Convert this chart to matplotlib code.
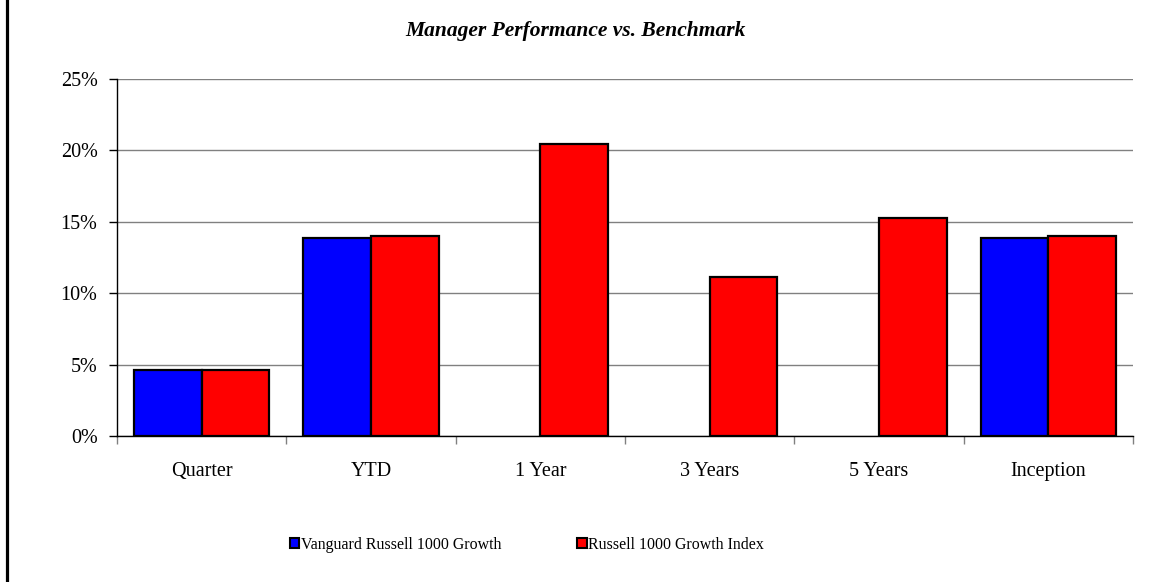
import matplotlib
matplotlib.use("Agg")
import matplotlib.pyplot as plt
from matplotlib.lines import Line2D
from matplotlib.patches import Patch
from matplotlib.ticker import FuncFormatter, FixedLocator
import numpy as np

categories = ["Quarter", "YTD", "1 Year", "3 Years", "5 Years", "Inception"]
manager = [4.6, 13.85, 0.0, 0.0, 0.0, 13.85]
benchmark = [4.65, 14.0, 20.43, 11.13, 15.3, 14.0]
series_names = ["Vanguard Russell 1000 Growth", "Russell 1000 Growth Index"]
yticks = [0, 5, 10, 15, 20, 25]

plt.rcParams['font.family'] = ['Liberation Serif', 'DejaVu Serif']

fig = plt.figure(figsize=(11.51, 5.82), dpi=100)
ax = fig.add_axes([117/1151, 1-436/582, (1133-117)/1151, (436-79)/582])

x = np.arange(len(categories))
w = 0.4
lw_m = [1.6 if v != 0 else 0 for v in manager]
lw_b = [1.6 if v != 0 else 0 for v in benchmark]
ax.bar(x - w/2, manager, w, color="#0000FF", edgecolor="black", linewidth=lw_m, zorder=3)
ax.bar(x + w/2, benchmark, w, color="#FF0000", edgecolor="black", linewidth=lw_b, zorder=3)

ax.set_xlim(-0.5, len(categories) - 0.5)
ax.set_ylim(0, 25)
ax.set_yticks(yticks)
ax.yaxis.set_major_formatter(FuncFormatter(lambda v, p: f"{int(v)}%"))
ax.yaxis.grid(True, color="#808080", linewidth=1.0, zorder=0)
ax.set_axisbelow(True)

ax.set_xticks(x)
ax.set_xticklabels(categories)
ax.xaxis.set_minor_locator(FixedLocator(np.arange(-0.5, len(categories), 1.0)))
ax.tick_params(axis="x", which="major", length=0, pad=19, labelsize=14.5)
ax.tick_params(axis="x", which="minor", length=6, color="#808080", width=1)
ax.tick_params(axis="y", which="major", length=6, color="black", width=1, pad=8, labelsize=14.5)

for s in ["top", "right"]:
    ax.spines[s].set_visible(False)
ax.spines["left"].set_color("black")
ax.spines["bottom"].set_color("black")
ax.spines["left"].set_linewidth(1)
ax.spines["bottom"].set_linewidth(1)
ax.spines["bottom"].set_zorder(4)

fig.text(575/1151, 1-31/582, "Manager Performance vs. Benchmark", ha="center", va="center",
         fontsize=15.5, fontweight="bold", fontstyle="italic")

handles = [Patch(facecolor="#0000FF", edgecolor="black", linewidth=1.5),
           Patch(facecolor="#FF0000", edgecolor="black", linewidth=1.5)]
fig.legend(handles, series_names, loc="center", bbox_to_anchor=(527/1151, 1-545/582),
           ncol=2, frameon=False, fontsize=11.4, handlelength=0.6, handleheight=0.6,
           handletextpad=0.1, columnspacing=4.8)

fig.add_artist(Line2D([6.5/1151, 6.5/1151], [0, 1], color="black", linewidth=2.3,
                      transform=fig.transFigure))

fig.savefig("out.png", dpi=100)
